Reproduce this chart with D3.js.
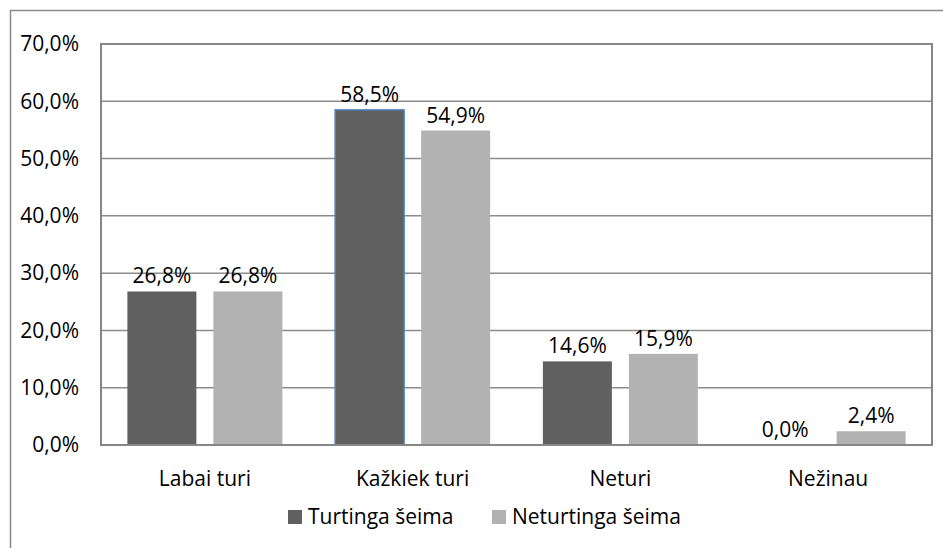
<!DOCTYPE html>
<html><head><meta charset="utf-8">
<script src="https://cdn.jsdelivr.net/npm/d3@7"></script>
<style>body{margin:0;background:#fff}svg{display:block}text{font-family:"Open Sans",sans-serif;fill:#000}</style>
</head><body>
<script>
const categories = ["Labai turi", "Kažkiek turi", "Neturi", "Nežinau"];
const seriesNames = ["Turtinga šeima", "Neturtinga šeima"];
const turtinga = [26.8, 58.5, 14.6, 0.0];
const neturtinga = [26.8, 54.9, 15.9, 2.4];
const yTicks = [0, 10, 20, 30, 40, 50, 60, 70];
const colors = ["#606060", "#b2b2b2"];

const W = 943, H = 548;
const FS = "21px";
const svg = d3.select("body").append("svg").attr("width", W).attr("height", H);
const m = {left: 101, top: 44, right: 932, bottom: 445};
const fmt = v => v.toFixed(1).replace(".", ",") + "%";

// outer border
svg.append("path").attr("d", `M10.5,${H} V10.5 H${W}`).attr("fill","none").attr("stroke","#8a8a8a").attr("stroke-width",1.5);

const x0 = d3.scaleBand().domain(categories).range([m.left, m.right]);
const bw = x0.bandwidth();
const x1 = d3.scaleBand().domain(seriesNames).range([bw * 0.127, bw * 0.873]).paddingInner(0.198).paddingOuter(0);
const y = d3.scaleLinear().domain([0, 70]).range([m.bottom, m.top]);

// gridlines
svg.append("g").selectAll("line").data(yTicks).join("line")
  .attr("x1", m.left).attr("x2", m.right)
  .attr("y1", d => y(d)).attr("y2", d => y(d))
  .attr("stroke", "#8c8c8c").attr("stroke-width", 1.5);

// y axis labels
const yAxis = d3.axisLeft(y).tickValues(yTicks).tickFormat(fmt).tickSize(0).tickPadding(22);
const ga = svg.append("g").attr("transform", `translate(${m.left},0)`).call(yAxis);
ga.select(".domain").remove();
ga.selectAll("text").style("font-family", '"Open Sans",sans-serif').style("font-size", FS).attr("fill","#000");

const data = categories.map((c, i) => ({c, vals: [turtinga[i], neturtinga[i]]}));
const groups = svg.append("g").selectAll("g").data(data).join("g")
  .attr("transform", d => `translate(${x0(d.c)},0)`);
groups.selectAll("rect").data(d => d.vals.map((v, j) => ({v, s: seriesNames[j], j, c: d.c})))
  .join("rect")
  .attr("x", d => x1(d.s)).attr("width", x1.bandwidth())
  .attr("y", d => y(d.v)).attr("height", d => y(0) - y(d.v))
  .attr("fill", d => colors[d.j])
  .attr("stroke", d => (d.c === "Kažkiek turi" && d.j === 0) ? "#4f81bd" : "none")
  .attr("stroke-width", 1.5);
groups.selectAll("text").data(d => d.vals.map((v, j) => ({v, s: seriesNames[j], j})))
  .join("text")
  .attr("x", d => x1(d.s) + x1.bandwidth() / 2)
  .attr("y", d => y(d.v) - 8)
  .attr("text-anchor", "middle").style("font-size", FS)
  .text(d => fmt(d.v));

// plot area border
svg.append("path").attr("d", `M${m.left},${m.top} H${m.right} V${m.bottom} H${m.left} Z`)
  .attr("fill","none").attr("stroke","#868686").attr("stroke-width",2);

// x axis labels
svg.append("g").selectAll("text").data(categories).join("text")
  .attr("x", d => x0(d) + x0.bandwidth() / 2).attr("y", 486)
  .attr("text-anchor", "middle").style("font-size", FS).text(d => d);

// legend
const legX = [288, 492];
const lg = svg.append("g").selectAll("g").data(seriesNames).join("g")
  .attr("transform", (d, i) => `translate(${legX[i]},0)`);
lg.append("rect").attr("x", 0).attr("y", 510).attr("width", 14).attr("height", 14).attr("fill", (d, i) => colors[i]);
lg.append("text").attr("x", 20).attr("y", 524).style("font-size", FS).text(d => d);
</script>
</body></html>
